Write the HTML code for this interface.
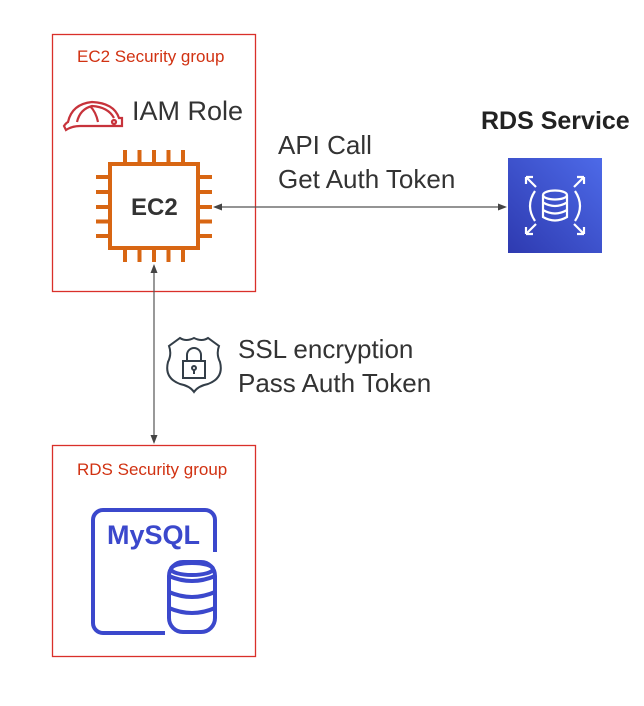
<!DOCTYPE html>
<html><head><style>
body{margin:0;background:#fff;width:644px;height:706px;overflow:hidden;position:relative;font-family:"Liberation Sans",sans-serif}
.t{position:absolute;white-space:nowrap}
</style></head><body>
<svg width="644" height="706" style="position:absolute;left:0;top:0">
<defs>
<linearGradient id="g" x1="0" y1="1" x2="1" y2="0"><stop offset="0" stop-color="#2e3ab0"/><stop offset="1" stop-color="#4d6ae8"/></linearGradient>
</defs>
<rect x="52.5" y="34.5" width="203" height="257" fill="none" stroke="#d9302a" stroke-width="1.3"/>
<rect x="52.5" y="445.5" width="203" height="211" fill="none" stroke="#d9302a" stroke-width="1.3"/>
<!-- hard hat -->
<g fill="none" stroke="#c7333b" stroke-width="2.2">
<path d="M68 122 Q72 104 92 102 Q114 103 119 118 L122 118 L122 126 L80 126 Q72 126 66 130 L64 126 Q66 123 68 122 Z"/>
<path d="M77 122 Q80 109 92 106 Q108 107 114 118"/>
<path d="M90 106 Q96 112 98 122"/>
<circle cx="114" cy="122" r="2"/>
</g>
<!-- EC2 chip -->
<g stroke="#d86613" stroke-width="4" fill="none">
<rect x="110" y="164" width="88" height="84"/>
<path d="M125 150v12M139.5 150v12M154 150v12M168.5 150v12M183 150v12
M125 250v12M139.5 250v12M154 250v12M168.5 250v12M183 250v12
M96 177h12M96 192h12M96 207h12M96 221.5h12M96 236h12
M200 177h12M200 192h12M200 207h12M200 221.5h12M200 236h12"/>
</g>
<!-- arrows -->
<g stroke="#555" stroke-width="1.2">
<line x1="222" y1="207" x2="499" y2="207"/>
<line x1="154" y1="272" x2="154" y2="436"/>
</g>
<g fill="#444">
<polygon points="213,207 222,203.5 222,210.5"/>
<polygon points="507,207 498,203.5 498,210.5"/>
<polygon points="154,264 150.5,273 157.5,273"/>
<polygon points="154,444 150.5,435 157.5,435"/>
</g>
<!-- RDS icon -->
<rect x="508" y="158" width="94" height="95" fill="url(#g)"/>
<g stroke="#fff" stroke-width="2.2" fill="none">
<ellipse cx="555" cy="195" rx="12" ry="4.5"/>
<path d="M543 195v22q12 7 24 0v-22M543 202.5q12 7 24 0M543 210q12 7 24 0"/>
<path d="M535 191q-10 15 0 30M575 191q10 15 0 30"/>
<path d="M526 177l10 10M526 177h7M526 177v7 M584 177l-10 10M584 177h-7M584 177v7 M526 234l10-10M526 234h7M526 234v-7 M584 234l-10-10M584 234h-7M584 234v-7"/>
</g>
<!-- shield -->
<g fill="none" stroke="#333e48" stroke-width="2">
<path d="M180 338 Q186 342 194 338 Q202 342 208 338 L219 346 Q216 354 220 362 Q224 378 208 384 Q198 386 194 392 Q190 386 180 384 Q164 378 168 362 Q172 354 169 346 Z"/>
<rect x="183" y="361" width="22" height="17"/>
<path d="M187 361v-6a7 7 0 0 1 14 0v6"/>
<circle cx="194" cy="368" r="2"/>
<path d="M194 370v4"/>
</g>
<!-- MySQL -->
<g fill="none" stroke="#3b48cc" stroke-width="4">
<path d="M215 552V520a10 10 0 0 0-10-10H103a10 10 0 0 0-10 10v103a10 10 0 0 0 10 10h62"/>
<rect x="169" y="562" width="46" height="70" rx="14" fill="#fff"/>
<path d="M169 576q23 10 46 0M169 592q23 10 46 0M169 608q23 10 46 0"/>
<ellipse cx="192" cy="569" rx="21" ry="6"/>
</g>
</svg>
<div class="t" style="left:77px;top:47px;font-size:17px;color:#d13212">EC2 Security group</div>
<div class="t" style="left:132px;top:96px;font-size:27px;color:#333">IAM Role</div>
<div class="t" style="left:131px;top:194px;font-size:24px;font-weight:bold;color:#333">EC2</div>
<div class="t" style="left:278px;top:128px;font-size:26px;line-height:34px;color:#333">API Call<br>Get Auth Token</div>
<div class="t" style="left:481px;top:107px;font-size:25px;font-weight:bold;color:#222">RDS Service</div>
<div class="t" style="left:238px;top:332px;font-size:26px;line-height:34px;color:#333">SSL encryption<br>Pass Auth Token</div>
<div class="t" style="left:77px;top:460px;font-size:17px;color:#d13212">RDS Security group</div>
<div class="t" style="left:107px;top:520px;font-size:27px;font-weight:bold;color:#3b48cc">MySQL</div>
</body></html>
